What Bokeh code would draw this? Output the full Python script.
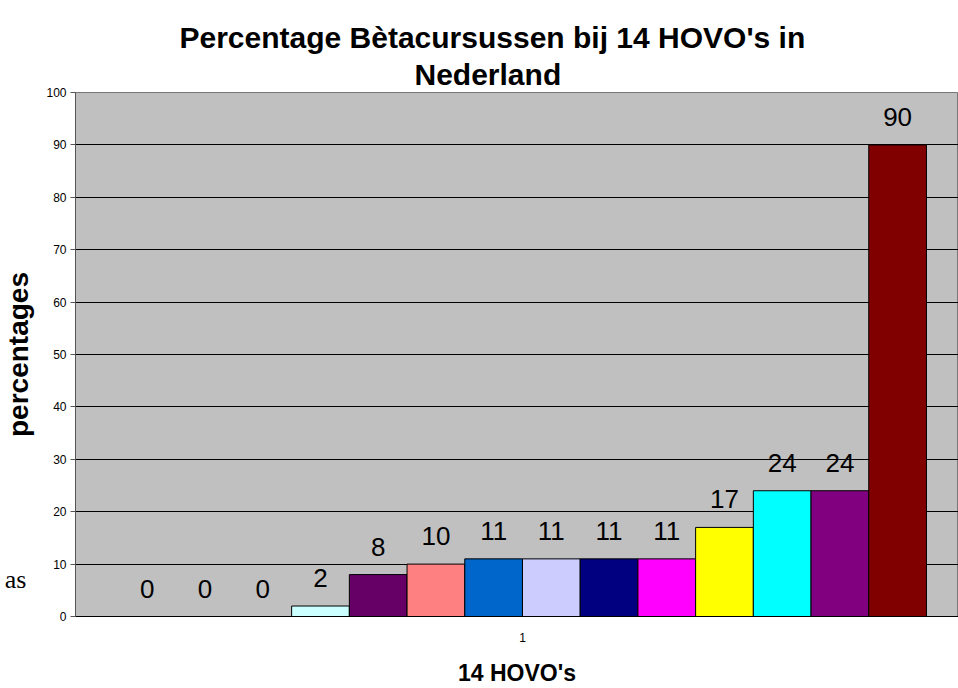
from bokeh.plotting import figure
from bokeh.models import ColumnDataSource, Range1d, Title, FixedTicker, LinearAxis
from bokeh.embed import file_html
from bokeh.resources import INLINE

values = [0, 0, 0, 2, 8, 10, 11, 11, 11, 11, 17, 24, 24, 90]
colors = ["#9999FF", "#993366", "#FFFFCC", "#CCFFFF", "#660066", "#FF8080", "#0066CC",
          "#CCCCFF", "#000080", "#FF00FF", "#FFFF00", "#00FFFF", "#800080", "#800000"]
labels = [str(v) for v in values]
category_label = "1"
y_ticks = list(range(0, 101, 10))
stray_text = "as"
stray_y = 7

xs = [i + 0.5 for i in range(len(values))]
src = ColumnDataSource(dict(x=xs, top=values, color=colors, label=labels,
                            visible_line=["black" if v > 0 else None for v in values]))

FONT = "Liberation Sans"
p = figure(width=958, height=688, output_backend="svg", toolbar_location=None,
           x_range=Range1d(-0.745, 14.555), y_range=Range1d(0, 100),
           min_border_left=75, min_border_right=0, min_border_top=92, min_border_bottom=72)
p.background_fill_color = "#C0C0C0"
p.border_fill_color = "white"
p.outline_line_color = "#777777"
p.outline_line_width = 1

p.vbar(x="x", top="top", width=1.0, bottom=0, source=src, fill_color="color",
       line_color="visible_line", line_width=1)
p.text(x="x", y="top", text="label", source=src, text_align="center",
       text_baseline="alphabetic", y_offset=-28, text_font_size="26px",
       text_font={"value": FONT}, text_color="black")

p.xgrid.visible = False
p.ygrid.grid_line_color = "black"
p.ygrid.grid_line_width = 1
p.ygrid.ticker = FixedTicker(ticks=y_ticks)

p.yaxis.ticker = FixedTicker(ticks=y_ticks)
p.yaxis.axis_line_color = "#555555"
p.yaxis.major_tick_line_color = "#555555"
p.yaxis.major_tick_out = 5
p.yaxis.major_tick_in = 0
p.yaxis.minor_tick_line_color = None
p.yaxis.major_label_text_font = FONT
p.yaxis.major_label_text_font_size = "12px"
p.yaxis.major_label_text_color = "black"
p.yaxis.major_label_standoff = 4
p.yaxis.axis_label = "percentages"
p.yaxis.axis_label_text_font = FONT
p.yaxis.axis_label_text_font_style = "bold"
p.yaxis.axis_label_text_font_size = "28px"
p.yaxis.axis_label_text_color = "black"
p.yaxis.axis_label_standoff = 9

# stray text at the far left edge, drawn as an extra (invisible) axis label
extra = LinearAxis(ticker=FixedTicker(ticks=[stray_y]),
                   major_label_overrides={stray_y: stray_text},
                   axis_line_color=None, major_tick_line_color=None,
                   minor_tick_line_color=None, major_tick_out=0, major_tick_in=0,
                   major_label_standoff=-26,
                   major_label_text_font="Liberation Serif",
                   major_label_text_font_size="26px", major_label_text_color="black")
p.add_layout(extra, "left")

p.xaxis.ticker = FixedTicker(ticks=[7])
p.xaxis.major_label_overrides = {7: category_label}
p.xaxis.axis_line_color = "black"
p.xaxis.major_tick_line_color = None
p.xaxis.minor_tick_line_color = None
p.xaxis.major_label_text_font = FONT
p.xaxis.major_label_text_font_size = "12px"
p.xaxis.major_label_text_color = "black"
p.xaxis.major_label_standoff = 10
p.xaxis.axis_label = "14 HOVO's"
p.xaxis.axis_label_text_font = FONT
p.xaxis.axis_label_text_font_style = "bold"
p.xaxis.axis_label_text_font_size = "23px"
p.xaxis.axis_label_text_color = "black"
p.xaxis.axis_label_standoff = 15

p.add_layout(Title(text="Nederland", align="left", offset=339, text_font=FONT,
                   text_font_size="30px", text_font_style="bold", text_color="black",
                   standoff=4), "above")
p.add_layout(Title(text="Percentage Bètacursussen bij 14 HOVO's in", align="left", offset=104,
                   text_font=FONT, text_font_size="30px", text_font_style="bold",
                   text_color="black", standoff=0), "above")

open("out.html", "w").write(file_html(p, INLINE))
